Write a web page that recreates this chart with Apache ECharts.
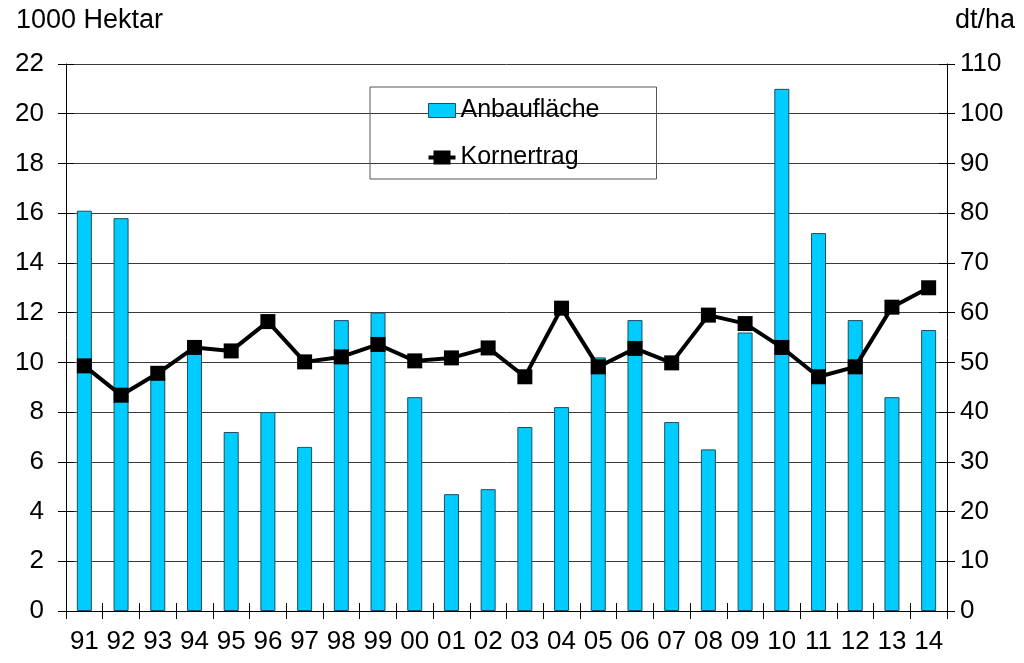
<!DOCTYPE html>
<html><head><meta charset="utf-8">
<script src="https://cdn.jsdelivr.net/npm/echarts@6/dist/echarts.min.js"></script>
<style>html,body{margin:0;padding:0;background:#fff}#c{width:1024px;height:663px}</style>
</head><body><div id="c"></div>
<script>
const years = ['91','92','93','94','95','96','97','98','99','00','01','02','03','04','05','06','07','08','09','10','11','12','13','14'];
const anbauflaeche = [16.1,15.8,9.4,10.4,7.2,8.0,6.6,11.7,12.0,8.6,4.7,4.9,7.4,8.2,10.2,11.7,7.6,6.5,11.2,21.0,15.2,11.7,8.6,11.3];
const kornertrag = [49.3,43.4,47.8,53.0,52.3,58.2,50.1,51.1,53.6,50.3,50.9,52.9,47.1,60.9,49.1,52.8,49.9,59.5,57.8,53.0,47.1,49.1,61.1,65.0];
const leftTicks = {min:0,max:22,interval:2};
const rightTicks = {min:0,max:110,interval:10};

const FONT = '"Liberation Sans", Arial, sans-serif';
const chart = echarts.init(document.getElementById('c'), null, {renderer:'canvas'});
const lab = {color:'#000', fontFamily:FONT, fontSize:26};
chart.setOption({
  animation:false,
  backgroundColor:'#fff',
  grid:{left:66,right:77,top:64,bottom:52},
  graphic:[
    {type:'text',left:16,top:7,style:{text:'1000 Hektar',font:'27px '+FONT,fill:'#000'}},
    {type:'text',right:9,top:7,style:{text:'dt/ha',font:'27px '+FONT,fill:'#000'}}
  ],
  legend:{
    orient:'vertical', left:370, top:87,
    padding:[11,57,9,58],
    borderColor:'#555', borderWidth:1,
    itemWidth:27, itemHeight:14, itemGap:22,
    textStyle:{fontFamily:FONT,fontSize:25,color:'#000',lineHeight:24},
    data:[
      {name:'Anbaufläche',icon:'rect',itemStyle:{borderColor:'#1d4f60',borderWidth:1}},
      {name:'Kornertrag',icon:'path://M0,5h5v-5h17v5h5v4h-5v5h-17v-5h-5z',itemStyle:{color:'#000',borderWidth:0}}
    ]
  },
  xAxis:[
    {type:'category',data:years,
     axisLine:{lineStyle:{color:'#000',width:1}},
     axisTick:{show:true,length:8,lineStyle:{color:'#000'}},
     axisLabel:Object.assign({margin:18,interval:0},lab)},
    {type:'category',data:years,position:'bottom',
     axisLine:{show:false},axisTick:{show:true,inside:true,length:8,lineStyle:{color:'#000'}},
     axisLabel:{show:false},splitLine:{show:false}}
  ],
  yAxis:[
    Object.assign({type:'value',position:'left',
     axisLine:{show:true,lineStyle:{color:'#000'}},
     axisTick:{show:true,length:8,lineStyle:{color:'#000'}},
     splitLine:{show:true,lineStyle:{color:'#3a3a3a',width:1}},
     axisLabel:Object.assign({margin:22},lab)},leftTicks),
    Object.assign({type:'value',position:'right',
     axisLine:{show:true,lineStyle:{color:'#000'}},
     axisTick:{show:true,length:8,lineStyle:{color:'#000'}},
     splitLine:{show:false},
     axisLabel:Object.assign({margin:13},lab)},rightTicks),
    Object.assign({type:'value',position:'left',
     axisLine:{show:false},axisTick:{show:true,inside:true,length:8,lineStyle:{color:'#000'}},
     splitLine:{show:false},axisLabel:{show:false}},leftTicks),
    Object.assign({type:'value',position:'right',
     axisLine:{show:false},axisTick:{show:true,inside:true,length:8,lineStyle:{color:'#000'}},
     splitLine:{show:false},axisLabel:{show:false}},rightTicks)
  ],
  series:[
    {name:'Anbaufläche',type:'bar',data:anbauflaeche,xAxisIndex:0,yAxisIndex:0,
     barWidth:15,
     itemStyle:{color:'#00CCFF',borderColor:'#1d4f60',borderWidth:1}},
    {name:'Kornertrag',type:'line',data:kornertrag,xAxisIndex:0,yAxisIndex:1,
     symbol:'rect',symbolSize:15,
     lineStyle:{color:'#000',width:4},
     itemStyle:{color:'#000'}}
  ]
});
</script></body></html>
